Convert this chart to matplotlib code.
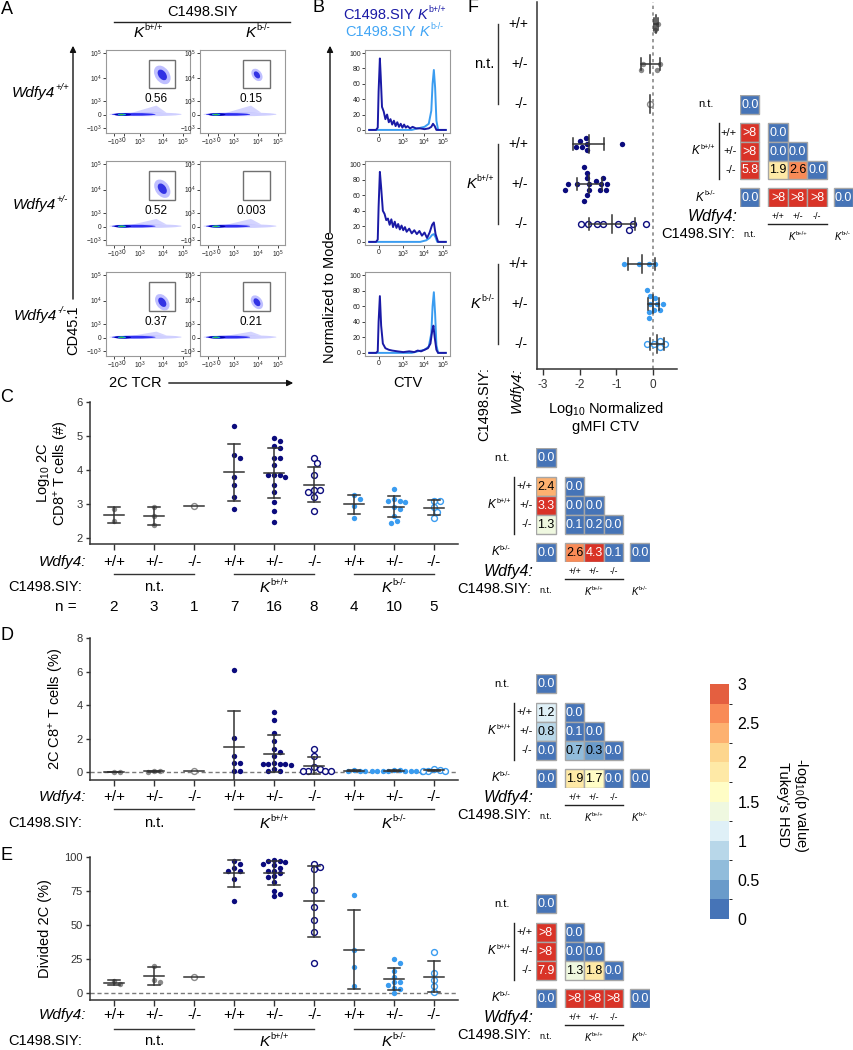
import numpy as np
import matplotlib
matplotlib.use('Agg')
import matplotlib.pyplot as plt
import matplotlib.transforms as mtransforms
from matplotlib.patches import Rectangle, Ellipse, Polygon, FancyArrowPatch
from matplotlib.lines import Line2D
from matplotlib.colors import ListedColormap, BoundaryNorm
from matplotlib.cm import ScalarMappable

plt.rcParams['font.family'] = ['Liberation Sans', 'DejaVu Sans']
plt.rcParams['mathtext.fontset'] = 'custom'
plt.rcParams['mathtext.rm'] = 'Liberation Sans'
plt.rcParams['mathtext.it'] = 'Liberation Sans:italic'
plt.rcParams['mathtext.bf'] = 'Liberation Sans:bold'

# ======================= DATA =======================
wdfy4_genotypes = ['+/+', '+/-', '-/-']
kb_sup = ['b+/+', 'b-/-']
n_per_group = [2, 3, 1, 7, 16, 8, 4, 10, 5]

# Panel A: % gated 2C cells (rows: Wdfy4 +/+, +/-, -/-; cols: Kb+/+, Kb-/-)
gate_freq = [[0.56, 0.15], [0.52, 0.003], [0.37, 0.21]]
gate_freq_labels = [['0.56', '0.15'], ['0.52', '0.003'], ['0.37', '0.21']]
flow_tick_pos_x = [0.1, 0.215, 0.4, 0.68, 0.92]
flow_tick_lab = [r'$-10^3$', '0', r'$10^3$', r'$10^4$', r'$10^5$']
flow_tick_pos_y = [0.06, 0.22, 0.38, 0.66, 0.96]

# Panel B: CTV histograms (x in display units of biexponential axis, y = % of mode)
ctv_tick_pos = [0.16, 0.45, 0.7, 0.92]
ctv_tick_lab = ['0', r'$10^3$', r'$10^4$', r'$10^5$']
hist_dark_x = [
    [0.05, 0.13, 0.15, 0.16, 0.175, 0.185, 0.2, 0.22, 0.24, 0.26, 0.28, 0.30, 0.32, 0.34, 0.36, 0.38, 0.40, 0.42, 0.44, 0.46, 0.48, 0.50, 0.53, 0.56, 0.60, 0.65, 0.70, 0.75, 0.78, 0.80, 0.82, 0.84, 0.95],
    [0.05, 0.13, 0.15, 0.16, 0.175, 0.19, 0.21, 0.23, 0.25, 0.27, 0.29, 0.31, 0.33, 0.35, 0.37, 0.39, 0.41, 0.43, 0.45, 0.47, 0.49, 0.52, 0.55, 0.58, 0.61, 0.64, 0.67, 0.70, 0.73, 0.76, 0.79, 0.81, 0.83, 0.86, 0.95],
    [0.05, 0.13, 0.15, 0.16, 0.175, 0.19, 0.21, 0.24, 0.28, 0.32, 0.38, 0.45, 0.52, 0.58, 0.62, 0.66, 0.70, 0.74, 0.77, 0.79, 0.805, 0.82, 0.84, 0.86, 0.95],
]
hist_dark_y = [
    [0, 0, 3, 50, 93, 70, 30, 24, 14, 20, 10, 14, 7, 12, 5, 10, 4, 8, 3, 7, 3, 5, 2, 4, 2, 2, 1, 2, 4, 8, 5, 0, 0],
    [0, 0, 3, 45, 90, 70, 40, 36, 28, 30, 22, 29, 19, 26, 18, 23, 16, 21, 15, 19, 13, 17, 11, 15, 10, 14, 8, 12, 5, 12, 22, 25, 10, 0, 0],
    [0, 0, 2, 40, 73, 35, 12, 6, 4, 3, 2, 1, 2, 1, 3, 2, 4, 6, 12, 28, 35, 20, 4, 0, 0],
]
hist_light_x = [
    [0.05, 0.55, 0.62, 0.70, 0.75, 0.78, 0.795, 0.81, 0.825, 0.84, 0.86, 0.95],
    [0.05, 0.65, 0.72, 0.76, 0.79, 0.81, 0.83, 0.85, 0.95],
    [0.05, 0.55, 0.62, 0.70, 0.75, 0.78, 0.795, 0.81, 0.825, 0.84, 0.86, 0.95],
]
hist_light_y = [
    [0, 0, 2, 4, 8, 25, 60, 78, 55, 12, 0, 0],
    [0, 0, 2, 5, 9, 10, 6, 0, 0],
    [0, 0, 2, 4, 8, 25, 60, 78, 50, 10, 0, 0],
]

# Panel C: log10 # 2C CD8+ T cells (groups: nt +/+, +/-, -/-, Kb+/+ x3, Kb-/- x3)
c_values = [
    [2.85, 2.5],
    [2.9, 2.65, 2.38],
    [2.93],
    [5.3, 4.45, 4.35, 3.8, 3.55, 3.2, 2.85],
    [4.95, 4.85, 4.7, 4.65, 4.35, 4.35, 4.15, 3.85, 3.85, 3.85, 3.8, 3.55, 3.35, 3.05, 2.8, 2.48],
    [4.35, 4.2, 3.85, 3.4, 3.4, 3.35, 3.2, 2.8],
    [3.25, 3.15, 2.95, 2.6],
    [3.45, 3.15, 3.1, 3.1, 3.05, 2.9, 2.85, 2.65, 2.5, 2.45],
    [3.1, 3.1, 2.9, 2.75, 2.6],
]
# Panel D: % 2C of CD8+ T cells
d_values = [
    [0.05, 0.04],
    [0.05, 0.07, 0.06],
    [0.1],
    [6.1, 2.05, 1.0, 0.55, 0.55, 0.1, 0.1],
    [3.6, 3.1, 2.35, 1.9, 1.4, 1.2, 1.0, 0.55, 0.5, 0.5, 0.5, 0.5, 0.45, 0.2, 0.1, 0.1],
    [1.4, 0.95, 0.35, 0.2, 0.1, 0.1, 0.1, 0.1],
    [0.12, 0.1, 0.1, 0.08],
    [0.15, 0.12, 0.1, 0.1, 0.1, 0.08, 0.08, 0.07, 0.06, 0.05],
    [0.2, 0.12, 0.1, 0.1, 0.08],
]
# Panel E: % divided 2C
e_values = [
    [9, 6.5],
    [20, 10, 8],
    [12],
    [97, 95, 92, 90, 90, 84, 68],
    [98, 97, 97, 96, 95, 94, 92, 90, 90, 88, 86, 85, 82, 75, 73, 71],
    [95, 93, 91, 76, 63, 54, 45, 22],
    [72, 32, 19, 5],
    [25, 22, 16, 12, 8, 8, 6, 4, 3, 0],
    [30, 15, 10, 5, 1],
]
# Panel F: log10 normalized gMFI CTV
f_values = [
    [0.13, 0.05],
    [-0.32, -0.27, 0.1, 0.2],
    [-0.08],
    [-1.82, -1.94, -1.8, -1.98, -2.1, -1.8, -0.85],
    [-1.75, -2.07, -1.87, -1.28, -1.8, -1.42, -2.41, -1.8, -1.24, -2.32, -1.8, -1.55, -1.35, -1.87, -1.73, -1.44],
    [-1.35, -0.66, -1.96, -1.53, -0.94, -0.55, -0.18, -1.76],
    [-0.79, -0.39, -0.11, 0.05],
    [-0.07, 0.11, -0.12, 0.06, -0.07, 0.27, -0.16, 0.02, -0.12, 0.2],
    [-0.16, 0.02, 0.2, 0.34, 0.2],
]

# Tukey's HSD -log10(p) heatmaps (lower triangle; 9.0 means ">8")
heat_F = [[0.0], [9.0, 0.0], [9.0, 0.0, 0.0], [5.8, 1.9, 2.6, 0.0], [0.0, 9.0, 9.0, 9.0, 0.0]]
heat_C = [[0.0], [2.4, 0.0], [3.3, 0.0, 0.0], [1.3, 0.1, 0.2, 0.0], [0.0, 2.6, 4.3, 0.1, 0.0]]
heat_D = [[0.0], [1.2, 0.0], [0.8, 0.1, 0.0], [0.0, 0.7, 0.3, 0.0], [0.0, 1.9, 1.7, 0.0, 0.0]]
heat_E = [[0.0], [9.0, 0.0], [9.0, 0.0, 0.0], [7.9, 1.3, 1.8, 0.0], [0.0, 9.0, 9.0, 9.0, 0.0]]

cbar_levels = [0, 0.25, 0.5, 0.75, 1.0, 1.25, 1.5, 1.75, 2.0, 2.25, 2.5, 2.75, 3.0]
cbar_colors = ['#4674b7', '#6a9bca', '#91bcdb', '#b8d7e9', '#dff0f7', '#eff8e0',
               '#fffdc6', '#fee9a6', '#fdd68e', '#fdb170', '#f98b57', '#e45f40']
cbar_ticks = [0, 0.5, 1, 1.5, 2, 2.5, 3]
cbar_ticklabels = ['0', '0.5', '1', '1.5', '2', '2.5', '3']

# ======================= STYLE =======================
W, H = 854, 1050
GRAY = '#8a8a8a'
NAVY = '#0b0b7d'
LIGHT = '#3a9cf0'
EBC = '#333333'
ABOVE = '#d93327'
grp_color = [GRAY] * 3 + [NAVY] * 3 + [LIGHT] * 3
grp_open = [False, False, True] * 3

fig = plt.figure(figsize=(W / 100, H / 100), dpi=100)
renderer = fig.canvas.get_renderer()
pxT = mtransforms.Affine2D().scale(1.0 / W, -1.0 / H).translate(0, 1) + fig.transFigure
IDT = mtransforms.IdentityTransform()


def px_axes(x0, y0, x1, y1, zorder=1):
    return fig.add_axes([x0 / W, 1 - y1 / H, (x1 - x0) / W, (y1 - y0) / H], zorder=zorder)


def T(x, y, s, **kw):
    kw.setdefault('ha', 'center')
    kw.setdefault('va', 'center')
    kw.setdefault('fontsize', 10.5)
    return fig.text(x / W, 1 - y / H, s, **kw)


def L(xs, ys, **kw):
    kw.setdefault('color', '#222222')
    kw.setdefault('lw', 1.0)
    fig.add_artist(Line2D(xs, ys, transform=pxT, **kw))


def arrow(p0, p1):
    fig.add_artist(FancyArrowPatch(p0, p1, transform=pxT, arrowstyle='-|>',
                                   mutation_scale=9, color='#111111', lw=1.0))


def rich(x, y, parts, transform=None, ha='center', color='black'):
    """parts: list of (string, fontsize, style, raise_px, gap_after_px)."""
    if transform is None:
        transform = pxT
    dx, dy = transform.transform((x, y))
    objs, widths = [], []
    for s, fs, st, rz, gap in parts:
        t = fig.text(0, 0, s, transform=IDT, fontsize=fs, style=st, color=color,
                     ha='left', va='center', zorder=10)
        objs.append(t)
        widths.append(t.get_window_extent(renderer).width)
    gaps = [p[4] for p in parts]
    tot = sum(widths) + sum(gaps[:-1])
    left = dx - tot / 2 if ha == 'center' else (dx - tot if ha == 'right' else dx)
    cur = left
    for t, w, (s, fs, st, rz, gap) in zip(objs, widths, parts):
        t.set_position((cur, dy + rz))
        cur += w + gap
    return objs


def K_parts(fs, sup, prefix=None):
    parts = []
    if prefix:
        parts.append((prefix, fs, 'normal', 0, fs * 0.4))
    parts.append(('K', fs, 'italic', 0, 0.6))
    parts.append((sup, fs * 0.6, 'normal', fs * 0.5, 0))
    return parts


def swarm(vals, scale, d):
    pos = np.asarray(vals, float) * scale
    order = np.argsort(-pos)
    steps = [0.0]
    for k in range(1, 60):
        steps += [k * d * 0.5, -k * d * 0.5]
    placed = []
    offs = np.zeros(len(pos))
    for i in order:
        for s in steps:
            if all(np.hypot(s - ox, pos[i] - oy) >= d * 0.95 for ox, oy in placed):
                offs[i] = s
                placed.append((s, pos[i]))
                break
    return offs


# ======================= PANEL A =======================
A_cols = [(106, 190), (200, 285)]
rows_y = [(50, 133), (161, 245), (272, 356)]
for r in range(3):
    for c in range(2):
        ax = px_axes(A_cols[c][0], rows_y[r][0], A_cols[c][1], rows_y[r][1])
        # main CD45.1- population (density band)
        ax.add_patch(Ellipse((0.47, 0.225), 0.86, 0.045, color='#a8a8ff', alpha=0.55, lw=0))
        ax.add_patch(Polygon([(0.28, 0.235), (0.6, 0.33 - 0.02 * r), (0.72, 0.245)], closed=True,
                             color='#a0a0ff', alpha=0.45, lw=0))
        ax.add_patch(Ellipse((0.33, 0.224), 0.52, 0.032, color='#1e1ef0', alpha=0.9, lw=0))
        ax.add_patch(Ellipse((0.2, 0.222), 0.2, 0.03, color='#0000b0', lw=0))
        ax.add_patch(Ellipse((0.19, 0.222), 0.1, 0.022, color='#10b0d0', lw=0))
        ax.add_patch(Ellipse((0.185, 0.222), 0.05, 0.015, color='#40c040', lw=0))
        # gate and gated population
        ax.add_patch(Rectangle((0.51, 0.54), 0.31, 0.34, fill=False, edgecolor='#707070', lw=1.0))
        f = gate_freq[r][c]
        if f >= 0.01:
            sz = 0.04 + 0.09 * np.sqrt(f / 0.56)
            cy = 0.70 - 0.03 * r
            ax.add_patch(Ellipse((0.67, cy), sz * 1.3, sz * 1.9, angle=35, color='#8080ff', alpha=0.5, lw=0))
            ax.add_patch(Ellipse((0.67, cy), sz * 0.7, sz * 1.1, angle=35, color='#1a1ae0', alpha=0.85, lw=0))
        ax.text(0.6, 0.41, gate_freq_labels[r][c], transform=ax.transAxes, ha='center', va='center', fontsize=8.5)
        ax.set_xlim(0, 1)
        ax.set_ylim(0, 1)
        ax.set_xticks(flow_tick_pos_x)
        ax.set_xticklabels(flow_tick_lab, fontsize=4.8)
        ax.set_yticks(flow_tick_pos_y)
        ax.set_yticklabels(flow_tick_lab, fontsize=4.8)
        ax.tick_params(length=2, width=0.6, pad=1, colors='#222222')
        for s in ax.spines.values():
            s.set_color('#999999')
            s.set_linewidth(0.8)

T(7, 9, 'A', fontsize=13)
T(203, 12, 'C1498.SIY', fontsize=10.5)
L([114, 290], [22, 22])
rich(148, 33, K_parts(11, kb_sup[0]))
rich(258, 33, K_parts(11, kb_sup[1]))
for r in range(3):
    rich(40, (rows_y[r][0] + rows_y[r][1]) / 2 + 2,
         [('Wdfy4', 11, 'italic', 0, 0.6), (wdfy4_genotypes[r], 6.8, 'italic', 5.5, 0)])
L([73, 73], [357, 302])
arrow((73, 302), (73, 43))
T(73, 330, 'CD45.1', rotation=90, fontsize=10.5, backgroundcolor='white')
T(135, 383, '2C TCR', fontsize=10.5)
arrow((166, 383), (296, 383))

# ======================= PANEL B =======================
for r in range(3):
    ax = px_axes(365, rows_y[r][0], 450, rows_y[r][1])
    ax.plot(hist_light_x[r], hist_light_y[r], color=LIGHT, lw=1.4)
    ax.plot(hist_dark_x[r], hist_dark_y[r], color='#1a1aa6', lw=1.4)
    ax.set_xlim(0, 1)
    ax.set_ylim(-4, 104)
    ax.set_xticks(ctv_tick_pos)
    ax.set_xticklabels(ctv_tick_lab, fontsize=5)
    ax.set_yticks([0, 20, 40, 60, 80, 100])
    ax.set_yticklabels(['0', '20', '40', '60', '80', '100'], fontsize=5)
    ax.tick_params(length=2, width=0.6, pad=1, colors='#222222')
    for s in ax.spines.values():
        s.set_color('#999999')
        s.set_linewidth(0.8)

T(318, 8, 'B', fontsize=13)
rich(343, 15, K_parts(10.5, kb_sup[0], prefix='C1498.SIY'), ha='left', color='#1a1aa6')
rich(345, 32, K_parts(10.5, kb_sup[1], prefix='C1498.SIY'), ha='left', color='#41a5f5')
T(330, 297, 'Normalized to Mode', rotation=90, fontsize=10.5)
arrow((330, 236), (330, 43))
T(408, 383, 'CTV', fontsize=10.5)


# ======================= PANELS C, D, E =======================
def strip_vertical(rect, data, ylim, yticks, ytlabels, zero_line):
    x0, y0, x1, y1 = rect
    ax = px_axes(*rect)
    xl = (-0.6, 8.6)
    xppu = (x1 - x0) / (xl[1] - xl[0])
    yppu = (y1 - y0) / (ylim[1] - ylim[0])
    if zero_line:
        ax.axhline(0, color='#7a7a7a', lw=1.0, ls=(0, (3, 2)), zorder=0)
    for i, vals in enumerate(data):
        v = np.asarray(vals, float)
        offs = swarm(v, yppu, 5.6) / xppu
        if grp_open[i]:
            ax.scatter(i + offs, v, s=18, facecolor='white', edgecolor=grp_color[i], lw=1.0, zorder=3)
        else:
            ax.scatter(i + offs, v, s=15, color=grp_color[i], lw=0, zorder=3)
        m = v.mean()
        if len(v) > 1:
            sd = v.std(ddof=1)
            ax.plot([i, i], [m - sd, m + sd], color=EBC, lw=1.1, zorder=4)
            for yy in (m - sd, m + sd):
                ax.plot([i - 0.15, i + 0.15], [yy, yy], color=EBC, lw=1.1, zorder=4)
        ax.plot([i - 0.26, i + 0.26], [m, m], color=EBC, lw=1.1, zorder=4)
    ax.set_xlim(*xl)
    ax.set_ylim(*ylim)
    ax.set_xticks(range(9))
    ax.set_xticklabels([])
    ax.set_yticks(yticks)
    ax.set_yticklabels(ytlabels, fontsize=8)
    ax.tick_params(axis='x', length=4, width=1, colors='#333333')
    ax.tick_params(axis='y', length=3, width=1, colors='#333333', pad=2)
    ax.spines['top'].set_visible(False)
    ax.spines['right'].set_visible(False)
    for s in ('left', 'bottom'):
        ax.spines[s].set_color('#333333')
        ax.spines[s].set_linewidth(1.1)
    return ax


def group_labels(ax, yg, yl, yt, yn=None):
    bt = mtransforms.blended_transform_factory(ax.transData, pxT)
    T(86, yg, 'Wdfy4:', ha='right', style='italic', fontsize=11)
    for i in range(9):
        ax.text(i, yg, wdfy4_genotypes[i % 3], transform=bt, ha='center', va='center',
                fontsize=11, clip_on=False)
    for g in range(3):
        ax.plot([3 * g, 3 * g + 2], [yl, yl], transform=bt, color='#333333', lw=1.0, clip_on=False)
    T(82, yt, 'C1498.SIY:', ha='right', fontsize=10.5)
    ax.text(1, yt, 'n.t.', transform=bt, ha='center', va='center', fontsize=10.5, clip_on=False)
    rich(4, yt + 1, K_parts(11, kb_sup[0]), transform=bt)
    rich(7, yt + 1, K_parts(11, kb_sup[1]), transform=bt)
    if yn is not None:
        T(77, yn, 'n =', ha='right', fontsize=11)
        for i in range(9):
            ax.text(i, yn, str(n_per_group[i]), transform=bt, ha='center', va='center',
                    fontsize=11, clip_on=False)


axC = strip_vertical((90, 402, 458, 544), c_values, (1.82, 6), [2, 3, 4, 5, 6],
                     ['2', '3', '4', '5', '6'], False)
group_labels(axC, 562, 574, 587, 607)
T(7, 398, 'C', fontsize=13)
T(53, 473, 'Log$_{10}$ 2C\nCD8$^{+}$ T cells (#)', rotation=90, fontsize=10.5, linespacing=1.05)

axD = strip_vertical((90, 638, 458, 780), d_values, (-0.45, 8), [0, 2, 4, 6, 8],
                     ['0', '2', '4', '6', '8'], True)
group_labels(axD, 797, 809, 823)
T(7, 635, 'D', fontsize=13)
T(57, 709, '2C C8$^{+}$ T cells (%)', rotation=90, fontsize=10.5)

axE = strip_vertical((90, 857, 458, 1000), e_values, (-5, 100), [0, 25, 50, 75, 100],
                     ['0', '25', '50', '75', '100'], True)
group_labels(axE, 1015, 1029, 1041)
T(7, 855, 'E', fontsize=13)
T(45, 929, 'Divided 2C (%)', rotation=90, fontsize=10.5)

# ======================= PANEL F =======================
axF = px_axes(537, 2, 677, 369)
xlF = (-3.16, 0.654)
xppuF = (677 - 537) / (xlF[1] - xlF[0])
axF.axvline(0, color='#8a8a8a', lw=1.2, ls=(0, (2, 2)), zorder=0)
for i, vals in enumerate(f_values):
    v = np.asarray(vals, float)
    offs = swarm(v, xppuF, 5.6) / 40.0
    if grp_open[i]:
        axF.scatter(v, i + offs, s=18, facecolor='white', edgecolor=grp_color[i], lw=1.0, zorder=3)
    else:
        axF.scatter(v, i + offs, s=15, color=grp_color[i], lw=0, zorder=3)
    m = v.mean()
    if len(v) > 1:
        sd = v.std(ddof=1)
        axF.plot([m - sd, m + sd], [i, i], color=EBC, lw=1.1, zorder=4)
        for xx in (m - sd, m + sd):
            axF.plot([xx, xx], [i - 0.15, i + 0.15], color=EBC, lw=1.1, zorder=4)
    axF.plot([m, m], [i - 0.22, i + 0.22], color=EBC, lw=1.1, zorder=4)
axF.set_xlim(*xlF)
axF.set_ylim(8.625, -0.55)
axF.set_xticks([-3, -2, -1, 0])
axF.set_xticklabels(['-3', '-2', '-1', '0'], fontsize=8.5)
axF.set_yticks([])
axF.tick_params(axis='x', length=4, width=1, colors='#333333')
axF.spines['top'].set_visible(False)
axF.spines['right'].set_visible(False)
for s in ('left', 'bottom'):
    axF.spines[s].set_color('#333333')
    axF.spines[s].set_linewidth(1.1)

btF = mtransforms.blended_transform_factory(pxT, axF.transData)
for i in range(9):
    axF.text(528, i, wdfy4_genotypes[i % 3], transform=btF, ha='right', va='center', fontsize=10, clip_on=False)
axF.text(494, 1, 'n.t.', transform=btF, ha='right', va='center', fontsize=10.5, clip_on=False)
rich(494, 4, K_parts(10.5, kb_sup[0]), transform=btF, ha='right')
rich(494, 7, K_parts(10.5, kb_sup[1]), transform=btF, ha='right')
for g in range(3):
    axF.plot([498, 498], [3 * g, 3 * g + 2], transform=btF, color='#333333', lw=1.0, clip_on=False)
T(473, 8, 'F', fontsize=13)
T(484, 367, 'C1498.SIY:', rotation=90, ha='center', va='top', fontsize=10.5)
T(517, 367, 'Wdfy4:', rotation=90, ha='center', va='top', fontsize=10.5, style='italic')
T(606, 417, 'Log$_{10}$ Normalized\ngMFI CTV', fontsize=10.5, linespacing=1.1)

# ======================= HEATMAPS =======================
cmap = ListedColormap(cbar_colors)
norm = BoundaryNorm(cbar_levels, cmap.N)
col_pos = [0.0, 1.47, 2.47, 3.47, 4.83]
row_pos = [0.0, 1.5, 2.5, 3.5, 4.97]


def cell_color(v):
    return ABOVE if v > 3 else cmap(norm(v))


def heatmap(rect, mat):
    ax = px_axes(*rect)
    ax.set_xlim(0, 5.83)
    ax.set_ylim(5.97, 0)
    ax.axis('off')
    for r, row in enumerate(mat):
        for c, v in enumerate(row):
            ax.add_patch(Rectangle((col_pos[c], row_pos[r]), 1, 1, facecolor=cell_color(v),
                                   edgecolor='#a6a6a6', lw=1.0))
            lab = '>8' if v > 8 else f'{v:.1f}'
            tc = 'white' if (v < 0.25 or v > 3) else 'black'
            ax.text(col_pos[c] + 0.5, row_pos[r] + 0.52, lab, ha='center', va='center',
                    fontsize=9, color=tc)
    kw = dict(clip_on=False, va='center')
    ax.text(-1.35, row_pos[0] + 0.5, 'n.t.', ha='right', fontsize=8, **kw)
    for k in range(3):
        ax.text(-0.18, row_pos[1 + k] + 0.5, wdfy4_genotypes[k], ha='right', fontsize=8, **kw)
    ax.plot([-1.1, -1.1], [row_pos[1], row_pos[3] + 1], color='#222222', lw=1.0, clip_on=False)
    rich(-1.3, row_pos[2] + 0.5, K_parts(8.5, kb_sup[0]), transform=ax.transData, ha='right')
    rich(-1.3, row_pos[4] + 0.5, K_parts(8.5, kb_sup[1]), transform=ax.transData, ha='right')
    ax.text(-0.15, 6.45, 'Wdfy4:', ha='right', fontsize=11.5, style='italic', **kw)
    for k in range(3):
        ax.text(col_pos[1 + k] + 0.5, 6.45, wdfy4_genotypes[k], ha='center', fontsize=6.5, **kw)
    ax.plot([col_pos[1], col_pos[3] + 1], [6.88, 6.88], color='#222222', lw=1.0, clip_on=False)
    ax.text(-0.25, 7.4, 'C1498.SIY:', ha='right', fontsize=10.5, **kw)
    ax.text(0.5, 7.45, 'n.t.', ha='center', fontsize=6.5, **kw)
    rich(col_pos[2] + 0.5, 7.55, K_parts(7, kb_sup[0]), transform=ax.transData)
    rich(col_pos[4] + 0.45, 7.55, K_parts(7, kb_sup[1]), transform=ax.transData)
    return ax


heatmap((740, 95, 853, 207), heat_F)
heatmap((536, 448, 650, 562), heat_C)
heatmap((536, 674, 650, 788), heat_D)
heatmap((536, 894, 650, 1008), heat_E)

# colorbar
cax = px_axes(710, 684, 729, 919)
cb = fig.colorbar(ScalarMappable(norm=norm, cmap=cmap), cax=cax, ticks=cbar_ticks)
cb.set_ticklabels(cbar_ticklabels)
cb.outline.set_visible(False)
cax.tick_params(length=0, labelsize=11.5, pad=6)
T(793, 805, '-log$_{10}$(p value)\nTukey\'s HSD', rotation=270, fontsize=10.5, linespacing=1.1)

fig.savefig('out.png', dpi=100)
